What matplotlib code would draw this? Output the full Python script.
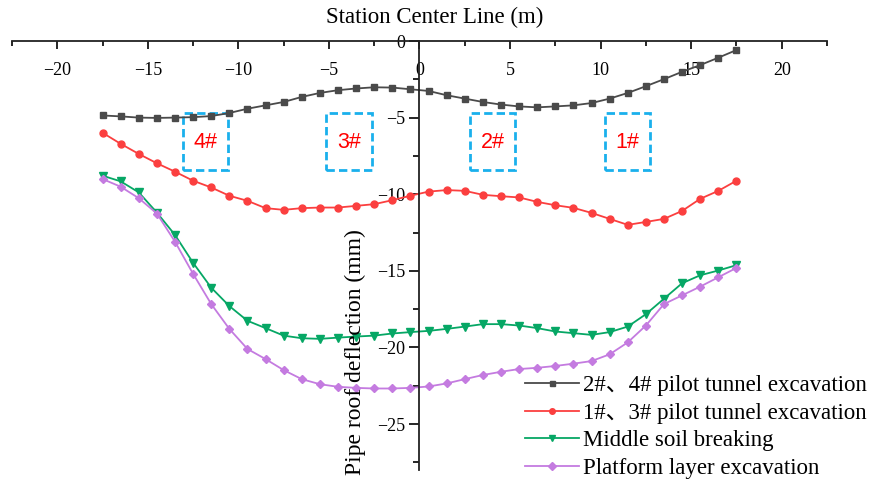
import matplotlib
matplotlib.use("Agg")
import matplotlib.pyplot as plt
from matplotlib.patches import Rectangle
from matplotlib.ticker import MultipleLocator

plt.rcParams["font.family"] = ["Liberation Serif", "Noto Sans CJK SC"]

x = [-17.5 + i for i in range(36)]

stage_24 = [-4.86, -4.92, -5.0, -5.02, -5.0, -4.97, -4.9, -4.7, -4.42, -4.2,
            -3.98, -3.65, -3.39, -3.21, -3.1, -3.02, -3.04, -3.15, -3.26,
            -3.54, -3.76, -3.98, -4.15, -4.27, -4.33, -4.27, -4.2, -4.05,
            -3.76, -3.39, -2.95, -2.49, -2.01, -1.57, -1.09, -0.59]
stage_13 = [-5.99, -6.71, -7.37, -7.98, -8.53, -9.12, -9.56, -10.1, -10.43,
            -10.91, -11.02, -10.91, -10.87, -10.87, -10.76, -10.65, -10.39,
            -10.1, -9.83, -9.73, -9.78, -10.04, -10.13, -10.21, -10.5,
            -10.72, -10.89, -11.22, -11.61, -12.0, -11.81, -11.61, -11.09,
            -10.3, -9.78, -9.12]
middle_soil = [-8.79, -9.16, -9.88, -11.2, -12.66, -14.48, -16.1, -17.3,
               -18.26, -18.74, -19.23, -19.4, -19.44, -19.36, -19.29, -19.23,
               -19.09, -19.0, -18.92, -18.79, -18.64, -18.48, -18.48, -18.57,
               -18.74, -18.96, -19.07, -19.18, -19.0, -18.64, -17.83, -16.82,
               -15.81, -15.29, -14.98, -14.63]
platform = [-9.01, -9.51, -10.26, -11.26, -13.1, -15.2, -17.17, -18.79,
            -20.1, -20.76, -21.48, -22.07, -22.4, -22.57, -22.64, -22.68,
            -22.68, -22.64, -22.55, -22.35, -22.07, -21.8, -21.59, -21.41,
            -21.33, -21.21, -21.06, -20.89, -20.45, -19.67, -18.57, -17.17,
            -16.6, -16.03, -15.42, -14.81]

labels = ["2#、4# pilot tunnel excavation", "1#、3# pilot tunnel excavation",
          "Middle soil breaking", "Platform layer excavation"]

# pilot tunnel boxes: name, left, right
tunnels = [("4#", -13.05, -10.6), ("3#", -5.15, -2.6), ("2#", 2.8, 5.3), ("1#", 10.25, 12.75)]

fig = plt.figure(figsize=(8.75, 4.83), dpi=100)
ax = fig.add_axes([12 / 875, 13 / 483, 815 / 875, 429 / 483])

ax.plot(x, stage_24, color="#4a4a4a", marker="s", ms=4.5, lw=1.3, label=labels[0])
ax.plot(x, stage_13, color="#fb3f3f", marker="o", ms=5, lw=1.3, label=labels[1])
ax.plot(x, middle_soil, color="#06a765", marker="v", ms=6, lw=1.3, label=labels[2])
ax.plot(x, platform, color="#c47be0", marker="D", ms=4.5, lw=1.3, label=labels[3])

for name, x0, x1 in tunnels:
    ax.add_patch(Rectangle((x0, -8.4), x1 - x0, 3.7, fill=False, ec="#1ab0ec",
                           lw=2, ls=(0, (3, 1.5))))
    ax.text((x0 + x1) / 2, -6.6, name, color="#ff0000", fontsize=15.5,
            family="Liberation Sans", ha="center", va="center")

ax.set_xlim(-22.5, 22.5)
ax.set_ylim(-28, 0)
ax.spines["top"].set_visible(False)
ax.spines["right"].set_visible(False)
ax.spines["bottom"].set_position(("data", 0))
ax.spines["left"].set_position(("data", 0))
for s in ("bottom", "left"):
    ax.spines[s].set_linewidth(1.3)
    ax.spines[s].set_color("#222222")

ax.xaxis.set_major_locator(MultipleLocator(5))
ax.xaxis.set_minor_locator(MultipleLocator(2.5))
ax.yaxis.set_major_locator(MultipleLocator(5))
ax.yaxis.set_minor_locator(MultipleLocator(2.5))
ax.tick_params(axis="x", which="major", length=6, width=1.2, labelsize=13, pad=9)
ax.tick_params(axis="x", which="minor", length=3.5, width=1.2)
ax.tick_params(axis="y", which="major", length=7, width=1.2, labelsize=13, pad=3)
ax.tick_params(axis="y", which="minor", length=4, width=1.2)

fig.text(0.497, 0.963, "Station Center Line (m)", fontsize=16.5, ha="center", va="center")
fig.text(0.406, 0.271, "Pipe roof deflection (mm)", fontsize=17, rotation=90,
         ha="center", va="center")

ax.legend(loc="upper left", bbox_to_anchor=(525 / 875, 1 - 375 / 483),
          bbox_transform=fig.transFigure, frameon=False, fontsize=16.5,
          borderpad=0, handlelength=2.35, handletextpad=0.2, labelspacing=0.29,
          borderaxespad=0, markerscale=0.8)

fig.savefig("out.png", dpi=100)
